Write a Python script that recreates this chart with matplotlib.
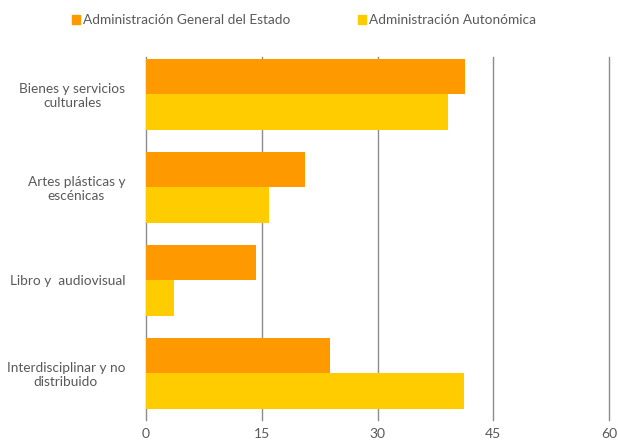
import matplotlib.pyplot as plt
from matplotlib.patches import Patch

categorias = ["Bienes y servicios\nculturales", "Artes plásticas y\nescénicas",
              "Libro y  audiovisual", "Interdisciplinar y no\ndistribuido"]
estado = [41.3, 20.6, 14.3, 23.8]
autonomica = [39.2, 16.0, 3.6, 41.2]
series = ["Administración General del Estado", "Administración Autonómica"]
xticks = [0, 15, 30, 45, 60]

naranja = "#FF9900"
amarillo = "#FFCC00"
gris = "#595959"

plt.rcParams['font.family'] = ['Lato', 'DejaVu Sans']

fig = plt.figure(figsize=(6.18, 4.41), dpi=100)
ax = fig.add_axes([146/618, 1 - 420/441, (609 - 146)/618, 363/441])

pos = list(range(len(categorias)))
h = 0.38
ax.barh([p - h/2 for p in pos], estado, height=h, color=naranja, zorder=3)
ax.barh([p + h/2 for p in pos], autonomica, height=h, color=amarillo, zorder=3)

ax.set_xlim(0, 60)
ax.set_ylim(3.5, -0.403)
ax.set_xticks(xticks)
ax.set_xticklabels([str(t) for t in xticks], color=gris, fontsize=10)
ax.set_yticks(pos)
ax.set_yticklabels(categorias, color=gris, fontsize=9.8, multialignment='center')
ax.tick_params(length=0, axis='y', pad=15)
ax.tick_params(length=0, axis='x', pad=6)
for t in xticks:
    ax.axvline(t, color='#8c8c8c', lw=1, zorder=1, clip_on=False)
for s in ax.spines.values():
    s.set_visible(False)

handles = [Patch(color=naranja), Patch(color=amarillo)]
fig.legend(handles, series, loc='center', bbox_to_anchor=(304/618, 1 - 20/441),
           ncol=2, frameon=False, fontsize=9.8, handlelength=0.6, handleheight=0.6,
           handletextpad=0.2, columnspacing=5.0, labelcolor=gris)

fig.savefig("out.png", dpi=100)
